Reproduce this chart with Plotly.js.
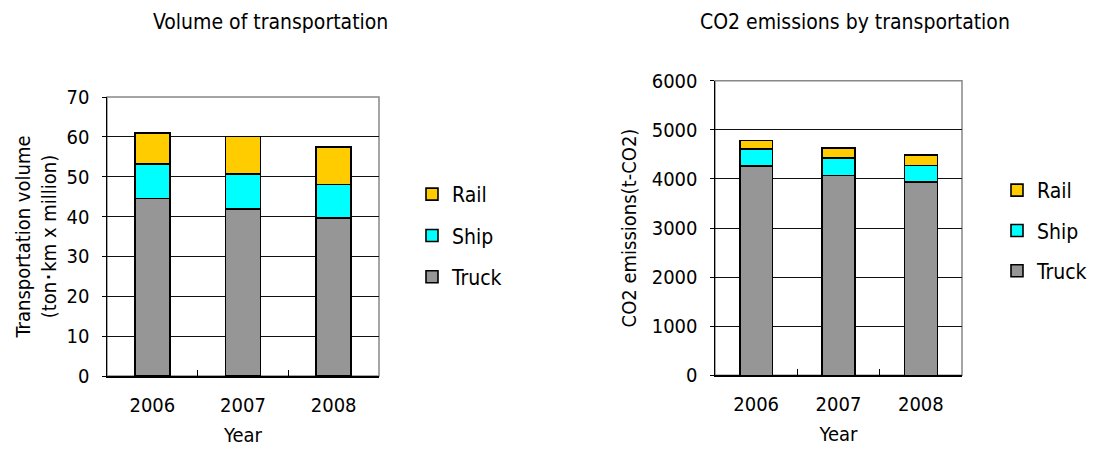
<!DOCTYPE html>
<html>
<head>
<meta charset="utf-8">
<script src="https://cdn.plot.ly/plotly-3.0.1.min.js"></script>
<style>html,body{margin:0;padding:0;background:#fff;}#chart{width:1093px;height:449px;}</style>
</head>
<body>
<div id="chart"></div>
<script>
const years = ['2006', '2007', '2008'];
const volumeTruck = [44.5, 41.9, 39.6];
const volumeShip = [8.7, 8.8, 8.4];
const volumeRail = [7.8, 9.4, 9.4];
const co2Truck = [4260, 4070, 3940];
const co2Ship = [350, 360, 335];
const co2Rail = [170, 200, 210];
const seriesNames = ['Truck', 'Ship', 'Rail'];
const leftTicks = [0, 10, 20, 30, 40, 50, 60, 70];
const rightTicks = [0, 1000, 2000, 3000, 4000, 5000, 6000];

const FONT = 'DejaVu Sans Condensed, DejaVu Sans, sans-serif';
const colors = {Truck: '#969696', Ship: '#00FFFF', Rail: '#FFCC00'};
const ranks = {Rail: 1, Ship: 2, Truck: 3};
const line = {color: '#000', width: 1.6};

function bar(name, y, xa, ya, lg, w) {
  return {
    type: 'bar', x: years, y: y, name: name, xaxis: xa, yaxis: ya,
    legend: lg, legendgroup: lg + name, legendrank: ranks[name], width: w,
    marker: {color: colors[name], line: line},
    hoverinfo: 'skip'
  };
}

const data = [
  bar('Truck', volumeTruck, 'x', 'y', 'legend', 0.385),
  bar('Ship', volumeShip, 'x', 'y', 'legend', 0.385),
  bar('Rail', volumeRail, 'x', 'y', 'legend', 0.385),
  bar('Truck', co2Truck, 'x2', 'y2', 'legend2', 0.40),
  bar('Ship', co2Ship, 'x2', 'y2', 'legend2', 0.40),
  bar('Rail', co2Rail, 'x2', 'y2', 'legend2', 0.40)
];

const W = 1093, H = 449;
const px = v => v / W;
const py = v => (H - v) / H;

const xCommon = {
  type: 'category', tickson: 'boundaries', ticks: 'inside', ticklen: 6,
  tickcolor: '#000', showline: true, linecolor: '#000', linewidth: 1.5,
  showgrid: false, tickfont: {family: FONT, size: 20, color: '#000'},
  ticklabelstandoff: 10, fixedrange: true
};
const yCommon = {
  ticks: 'outside', ticklen: 4, tickcolor: '#000', showline: true,
  linecolor: '#000', linewidth: 1.5, showgrid: true, gridcolor: '#111',
  gridwidth: 1, zeroline: false, tickfont: {family: FONT, size: 20, color: '#000'},
  ticklabelstandoff: 8, fixedrange: true
};

const layout = {
  width: W, height: H,
  margin: {l: 0, r: 0, t: 0, b: 0},
  paper_bgcolor: '#fff', plot_bgcolor: '#fff',
  barmode: 'stack',
  font: {family: FONT, color: '#000'},
  xaxis: Object.assign({}, xCommon, {
    domain: [px(107), px(379)], anchor: 'y',
    title: {text: 'Year', font: {family: FONT, size: 20}, standoff: 12}
  }),
  yaxis: Object.assign({}, yCommon, {
    domain: [py(376), py(97)], anchor: 'x', range: [0, 70],
    tickvals: leftTicks,
    title: {text: 'Transportation volume<br>(ton･km x million)', font: {family: FONT, size: 20}, standoff: 4}
  }),
  xaxis2: Object.assign({}, xCommon, {
    domain: [px(715), px(962)], anchor: 'y2',
    title: {text: 'Year', font: {family: FONT, size: 20}, standoff: 12}
  }),
  yaxis2: Object.assign({}, yCommon, {
    domain: [py(375.3), py(80.7)], anchor: 'x2', range: [0, 6000],
    tickvals: rightTicks,
    title: {text: 'CO2 emissions(t-CO2)', font: {family: FONT, size: 20}, standoff: 9}
  }),
  legend: {
    x: px(412), xanchor: 'left', y: py(174), yanchor: 'top',
    traceorder: 'grouped', tracegroupgap: 11,
    font: {family: FONT, size: 21, color: '#000'}, bgcolor: 'rgba(0,0,0,0)'
  },
  legend2: {
    x: px(997), xanchor: 'left', y: py(170), yanchor: 'top',
    traceorder: 'grouped', tracegroupgap: 10,
    font: {family: FONT, size: 21, color: '#000'}, bgcolor: 'rgba(0,0,0,0)'
  },
  annotations: [
    {text: 'Volume of transportation', xref: 'paper', yref: 'paper', x: px(270), y: py(22),
     xanchor: 'center', yanchor: 'middle', showarrow: false, font: {family: FONT, size: 21, color: '#000'}},
    {text: 'CO2 emissions by transportation', xref: 'paper', yref: 'paper', x: px(855), y: py(22),
     xanchor: 'center', yanchor: 'middle', showarrow: false, font: {family: FONT, size: 21, color: '#000'}}
  ],
  shapes: [
    {type: 'rect', xref: 'x domain', yref: 'y domain', x0: 0, x1: 1, y0: 0, y1: 1,
     line: {color: '#888', width: 1.5}, layer: 'below'},
    {type: 'rect', xref: 'x2 domain', yref: 'y2 domain', x0: 0, x1: 1, y0: 0, y1: 1,
     line: {color: '#888', width: 1.5}, layer: 'below'}
  ],
  showlegend: true
};

Plotly.newPlot('chart', data, layout, {displayModeBar: false, staticPlot: true});
</script>
</body>
</html>
